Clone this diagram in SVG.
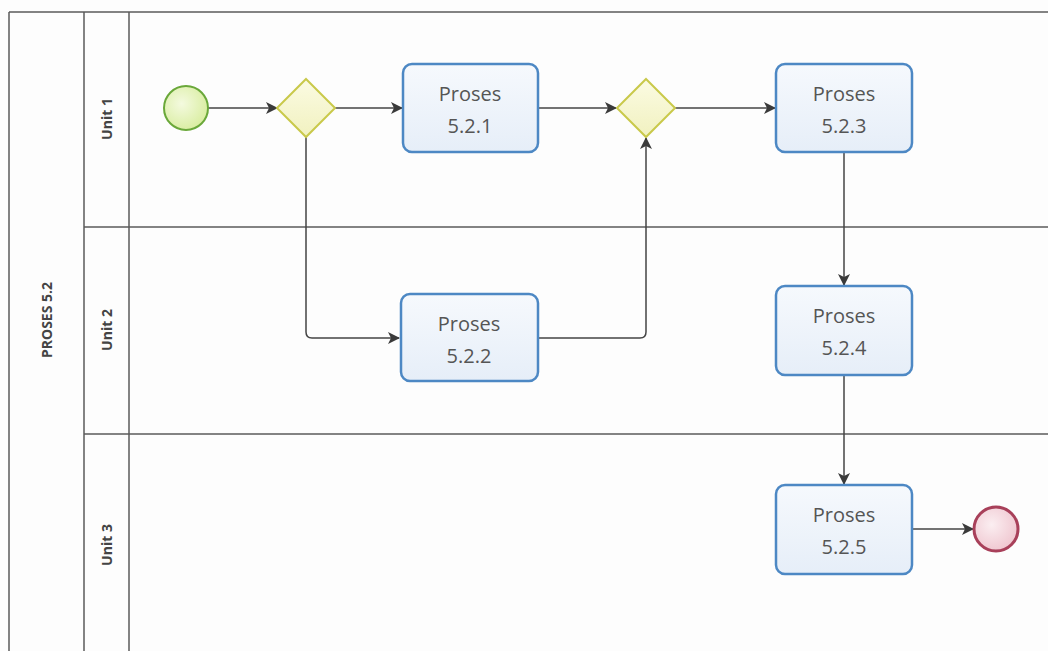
<svg xmlns="http://www.w3.org/2000/svg" width="1048" height="651" viewBox="0 0 1048 651">
<defs>
<marker id="arr" markerWidth="12" markerHeight="12" viewBox="0 0 12 12" refX="11" refY="6" orient="auto" markerUnits="userSpaceOnUse">
<path d="M0,0 L12,6 L0,12 L3,6 Z" fill="#3a3a3a"/>
</marker>
<radialGradient id="gStart" cx="0.4" cy="0.4" r="0.7"><stop offset="0" stop-color="#f4fadf"/><stop offset="1" stop-color="#d6ec9a"/></radialGradient>
<radialGradient id="gEnd" cx="0.4" cy="0.4" r="0.7"><stop offset="0" stop-color="#fbeef1"/><stop offset="1" stop-color="#eec2cc"/></radialGradient>
<linearGradient id="gTask" x1="0" y1="0" x2="0" y2="1"><stop offset="0" stop-color="#f6f9fd"/><stop offset="1" stop-color="#e6eef8"/></linearGradient>
<linearGradient id="gGw" x1="0" y1="0" x2="0" y2="1"><stop offset="0" stop-color="#fbfbe2"/><stop offset="1" stop-color="#f1f1c0"/></linearGradient>
</defs>
<style>
.pool{fill:none;stroke:#5a5a5a;stroke-width:1.5}
.task{fill:url(#gTask);stroke:#4d88c4;stroke-width:2.5}
.gw{fill:url(#gGw);stroke:#c9c94a;stroke-width:2}
.flow{fill:none;stroke:#444;stroke-width:1.5;marker-end:url(#arr)}
.t{font-family:"Open Sans","DejaVu Sans",sans-serif;font-size:20px;fill:#555;text-anchor:middle}
.lane{font-family:"Open Sans","DejaVu Sans",sans-serif;font-size:14px;font-weight:bold;fill:#444;text-anchor:middle}
</style>
<rect width="1048" height="651" fill="#fdfdfd"/>
<g id="pool">
<line class="pool" x1="9" y1="12" x2="1048" y2="12"/>
<line class="pool" x1="9" y1="12" x2="9" y2="651"/>
<line class="pool" x1="84" y1="12" x2="84" y2="651"/>
<line class="pool" x1="129" y1="12" x2="129" y2="651"/>
<line class="pool" x1="84" y1="227" x2="1048" y2="227"/>
<line class="pool" x1="84" y1="434" x2="1048" y2="434"/>
<text class="lane" transform="translate(52,320) rotate(-90)">PROSES 5.2</text>
<text class="lane" transform="translate(112,119) rotate(-90)">Unit 1</text>
<text class="lane" transform="translate(112,330) rotate(-90)">Unit 2</text>
<text class="lane" transform="translate(112,545) rotate(-90)">Unit 3</text>
</g>
<g id="connectors">
<line class="flow" x1="208" y1="108" x2="277" y2="108"/>
<line class="flow" x1="335" y1="108" x2="402" y2="108"/>
<line class="flow" x1="538" y1="108" x2="616" y2="108"/>
<line class="flow" x1="675" y1="108" x2="775" y2="108"/>
<path class="flow" d="M306,137 L306,332 Q306,338 312,338 L399,338"/>
<path class="flow" d="M538,338 L640,338 Q646,338 646,332 L646,138"/>
<line class="flow" x1="844" y1="152" x2="844" y2="285"/>
<line class="flow" x1="844" y1="375" x2="844" y2="484"/>
<line class="flow" x1="912" y1="529" x2="973" y2="529"/>
</g>
<g id="start"><circle cx="186" cy="108" r="22" fill="url(#gStart)" stroke="#6aa83a" stroke-width="2"/></g>
<g id="gw1"><polygon class="gw" points="306,79 335,108 306,137 277,108"/></g>
<g id="p521"><rect class="task" x="403" y="64" width="135" height="88" rx="9"/><text class="t" x="470" y="101">Proses</text><text class="t" x="470" y="133">5.2.1</text></g>
<g id="gw2"><polygon class="gw" points="646,79 675,108 646,137 617,108"/></g>
<g id="p523"><rect class="task" x="776" y="64" width="136" height="88" rx="9"/><text class="t" x="844" y="101">Proses</text><text class="t" x="844" y="133">5.2.3</text></g>
<g id="p522"><rect class="task" x="401" y="294" width="137" height="87" rx="9"/><text class="t" x="469" y="331">Proses</text><text class="t" x="469" y="363">5.2.2</text></g>
<g id="p524"><rect class="task" x="776" y="286" width="136" height="89" rx="9"/><text class="t" x="844" y="323">Proses</text><text class="t" x="844" y="355">5.2.4</text></g>
<g id="p525"><rect class="task" x="776" y="485" width="136" height="89" rx="9"/><text class="t" x="844" y="522">Proses</text><text class="t" x="844" y="554">5.2.5</text></g>
<g id="end"><circle cx="996" cy="529" r="22" fill="url(#gEnd)" stroke="#a8405a" stroke-width="3"/></g>
</svg>
